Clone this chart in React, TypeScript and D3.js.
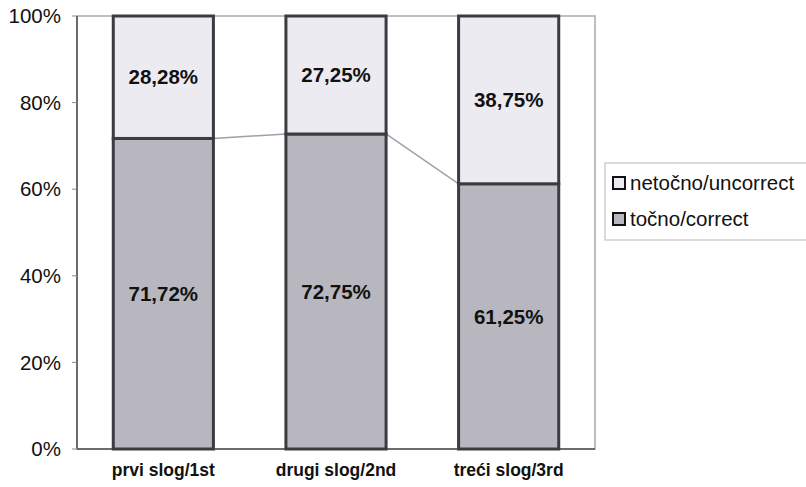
import * as d3 from "d3";

const categories = ["prvi slog/1st", "drugi slog/2nd", "treći slog/3rd"];
const correct = [71.72, 72.75, 61.25];
const incorrect = [28.28, 27.25, 38.75];
const yTicks = [0, 20, 40, 60, 80, 100];
const seriesNames = ["netočno/uncorrect", "točno/correct"];

const W = 806;
const H = 487;
const margin = { left: 77, right: 211, top: 16, bottom: 38 };
const font = "Arial, 'Liberation Sans', Helvetica, sans-serif";

const fillCorrect = "#b8b7bf";
const fillIncorrect = "#ecebf1";
const barStroke = "#3b3b41";

export default function App() {
  const x = d3
    .scaleBand<string>()
    .domain(categories)
    .range([margin.left, W - margin.right])
    .paddingInner(0.42)
    .paddingOuter(0.21);
  const y = d3
    .scaleLinear()
    .domain([0, 100])
    .range([H - margin.bottom, margin.top]);

  const fmt = (v: number) => v.toFixed(2).replace(".", ",") + "%";
  const bw = x.bandwidth();

  // series lines joining the tops of the "correct" segments
  const linkPts: [number, number][][] = [];
  for (let i = 0; i < categories.length - 1; i++) {
    linkPts.push([
      [x(categories[i])! + bw, y(correct[i])],
      [x(categories[i + 1])!, y(correct[i + 1])],
    ]);
  }
  const line = d3.line();

  return (
    <svg
      width={W}
      height={H}
      style={{ position: "absolute", left: 0, top: 0, background: "#fff" }}
      fontFamily={font}
    >
      {/* plot area frame */}
      <rect
        x={margin.left}
        y={margin.top}
        width={W - margin.right - margin.left}
        height={y(0) - margin.top}
        fill="#fff"
        stroke="#a8a8ae"
        strokeWidth={1.5}
      />
      <line
        x1={margin.left}
        x2={margin.left}
        y1={margin.top}
        y2={y(0)}
        stroke="#6a6a70"
        strokeWidth={2}
      />
      <line
        x1={margin.left}
        x2={W - margin.right}
        y1={y(0)}
        y2={y(0)}
        stroke="#6a6a70"
        strokeWidth={2}
      />

      {/* y ticks */}
      {yTicks.map((t) => (
        <g key={t}>
          <line
            x1={margin.left - 5}
            x2={margin.left}
            y1={y(t)}
            y2={y(t)}
            stroke="#8a8a90"
          />
          <text
            x={margin.left - 16}
            y={y(t)}
            dy="0.35em"
            textAnchor="end"
            fontSize={20.5}
            fill="#111"
          >
            {t}%
          </text>
        </g>
      ))}

      {linkPts.map((p, i) => (
        <path key={i} d={line(p)!} stroke="#a0a0a8" strokeWidth={1.5} fill="none" />
      ))}

      {/* bars */}
      {categories.map((c, i) => {
        const bx = x(c)!;
        return (
          <g key={c}>
            <rect
              x={bx}
              y={y(correct[i])}
              width={bw}
              height={y(0) - y(correct[i])}
              fill={fillCorrect}
              stroke={barStroke}
              strokeWidth={3}
            />
            <rect
              x={bx}
              y={y(100)}
              width={bw}
              height={y(correct[i]) - y(100)}
              fill={fillIncorrect}
              stroke={barStroke}
              strokeWidth={3}
            />
            <text
              x={bx + bw / 2}
              y={(y(correct[i]) + y(100)) / 2}
              dy="0.35em"
              textAnchor="middle"
              fontSize={20.5}
              fontWeight="bold"
              fill="#111"
            >
              {fmt(incorrect[i])}
            </text>
            <text
              x={bx + bw / 2}
              y={(y(0) + y(correct[i])) / 2}
              dy="0.35em"
              textAnchor="middle"
              fontSize={20.5}
              fontWeight="bold"
              fill="#111"
            >
              {fmt(correct[i])}
            </text>
            <text
              x={bx + bw / 2}
              y={y(0) + 27}
              textAnchor="middle"
              fontSize={17.5}
              fontWeight="bold"
              fill="#111"
            >
              {c}
            </text>
          </g>
        );
      })}

      {/* legend */}
      <rect x={605} y={163} width={230} height={77} fill="#fff" stroke="#b8b8c0" strokeWidth={1} />
      {seriesNames.map((s, i) => (
        <g key={s} transform={`translate(613, ${177 + i * 36})`}>
          <rect
            x={0}
            y={0}
            width={12}
            height={12}
            fill={i === 0 ? fillIncorrect : fillCorrect}
            stroke="#111"
            strokeWidth={2}
          />
          <text x={17} y={6} dy="0.35em" fontSize={20.5} fill="#111">
            {s}
          </text>
        </g>
      ))}
    </svg>
  );
}
